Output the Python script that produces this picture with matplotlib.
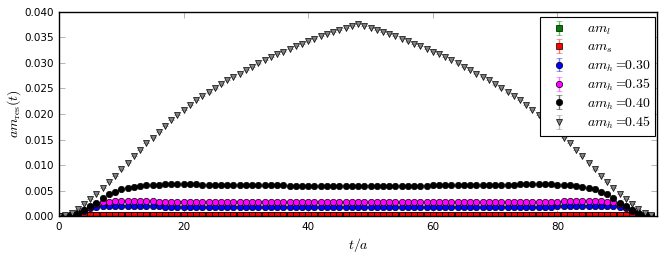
import numpy as np
import matplotlib as mpl
mpl.use('Agg')
import matplotlib.pyplot as plt
from matplotlib.colors import to_rgba

# residual mass am_res(t) on a T=96 lattice, t = 0..95
t = np.arange(96)

am_l = [0.0000, 0.0001, 0.0002, 0.0003, 0.0003, 0.0003, 0.0003, 0.0003, 0.0003, 0.0003, 0.0003, 0.0003,
        0.0003, 0.0003, 0.0003, 0.0003, 0.0003, 0.0003, 0.0003, 0.0003, 0.0003, 0.0003, 0.0003, 0.0003,
        0.0003, 0.0003, 0.0003, 0.0003, 0.0003, 0.0003, 0.0003, 0.0003, 0.0003, 0.0003, 0.0003, 0.0003,
        0.0003, 0.0003, 0.0003, 0.0003, 0.0003, 0.0003, 0.0003, 0.0003, 0.0003, 0.0003, 0.0003, 0.0003,
        0.0003, 0.0003, 0.0003, 0.0003, 0.0003, 0.0003, 0.0003, 0.0003, 0.0003, 0.0003, 0.0003, 0.0003,
        0.0003, 0.0003, 0.0003, 0.0003, 0.0003, 0.0003, 0.0003, 0.0003, 0.0003, 0.0003, 0.0003, 0.0003,
        0.0003, 0.0003, 0.0003, 0.0003, 0.0003, 0.0003, 0.0003, 0.0003, 0.0003, 0.0003, 0.0003, 0.0003,
        0.0003, 0.0003, 0.0003, 0.0003, 0.0003, 0.0003, 0.0003, 0.0003, 0.0003, 0.0003, 0.0002, 0.0001]

am_s = [0.0000, 0.0001, 0.0002, 0.00035, 0.00035, 0.00035, 0.00035, 0.00035, 0.00035, 0.00035, 0.00035, 0.00035,
        0.00035, 0.00035, 0.00035, 0.00035, 0.00035, 0.00035, 0.00035, 0.00035, 0.00035, 0.00035, 0.00035, 0.00035,
        0.00035, 0.00035, 0.00035, 0.00035, 0.00035, 0.00035, 0.00035, 0.00035, 0.00035, 0.00035, 0.00035, 0.00035,
        0.00035, 0.00035, 0.00035, 0.00035, 0.00035, 0.00035, 0.00035, 0.00035, 0.00035, 0.00035, 0.00035, 0.00035,
        0.00035, 0.00035, 0.00035, 0.00035, 0.00035, 0.00035, 0.00035, 0.00035, 0.00035, 0.00035, 0.00035, 0.00035,
        0.00035, 0.00035, 0.00035, 0.00035, 0.00035, 0.00035, 0.00035, 0.00035, 0.00035, 0.00035, 0.00035, 0.00035,
        0.00035, 0.00035, 0.00035, 0.00035, 0.00035, 0.00035, 0.00035, 0.00035, 0.00035, 0.00035, 0.00035, 0.00035,
        0.00035, 0.00035, 0.00035, 0.00035, 0.00035, 0.00035, 0.00035, 0.00035, 0.00035, 0.00035, 0.0002, 0.0001]

am_h30 = [0.0000, 0.0001, 0.0003, 0.0006, 0.0011, 0.0016, 0.0019, 0.0020, 0.0021, 0.0021, 0.0021, 0.0021,
          0.0020, 0.0020, 0.0020, 0.0020, 0.0020, 0.0019, 0.0019, 0.0019, 0.0019, 0.0019, 0.0019, 0.0019,
          0.0019, 0.0019, 0.0019, 0.0019, 0.0019, 0.0019, 0.0019, 0.0019, 0.0019, 0.0019, 0.0019, 0.0019,
          0.0019, 0.0019, 0.0019, 0.0019, 0.0019, 0.0019, 0.0019, 0.0019, 0.0019, 0.0019, 0.0019, 0.0019,
          0.0019, 0.0019, 0.0019, 0.0019, 0.0019, 0.0019, 0.0019, 0.0019, 0.0019, 0.0019, 0.0019, 0.0019,
          0.0019, 0.0019, 0.0019, 0.0019, 0.0019, 0.0019, 0.0019, 0.0019, 0.0019, 0.0019, 0.0019, 0.0019,
          0.0019, 0.0019, 0.0019, 0.0019, 0.0019, 0.0019, 0.0019, 0.0019, 0.0020, 0.0020, 0.0020, 0.0020,
          0.0020, 0.0021, 0.0021, 0.0021, 0.0021, 0.0020, 0.0019, 0.0016, 0.0011, 0.0006, 0.0003, 0.0001]

am_h35 = [0.0000, 0.0001, 0.0003, 0.0007, 0.0012, 0.0019, 0.0025, 0.0028, 0.0029, 0.0030, 0.0030, 0.0030,
          0.0030, 0.0030, 0.0030, 0.0030, 0.0029, 0.0029, 0.0029, 0.0029, 0.0029, 0.0029, 0.0029, 0.0029,
          0.0028, 0.0028, 0.0028, 0.0028, 0.0028, 0.0028, 0.0028, 0.0028, 0.0028, 0.0028, 0.0028, 0.0028,
          0.0028, 0.0028, 0.0028, 0.0028, 0.0028, 0.0028, 0.0028, 0.0028, 0.0028, 0.0028, 0.0028, 0.0028,
          0.0028, 0.0028, 0.0028, 0.0028, 0.0028, 0.0028, 0.0028, 0.0028, 0.0028, 0.0028, 0.0028, 0.0028,
          0.0028, 0.0028, 0.0028, 0.0028, 0.0028, 0.0028, 0.0028, 0.0028, 0.0028, 0.0028, 0.0028, 0.0028,
          0.0028, 0.0029, 0.0029, 0.0029, 0.0029, 0.0029, 0.0029, 0.0029, 0.0029, 0.0030, 0.0030, 0.0030,
          0.0030, 0.0030, 0.0030, 0.0030, 0.0029, 0.0028, 0.0025, 0.0019, 0.0012, 0.0007, 0.0003, 0.0001]

am_h40 = [0.0000, 0.0001, 0.0003, 0.0007, 0.0013, 0.0020, 0.0027, 0.0036, 0.0043, 0.0048, 0.0053, 0.0056,
          0.0058, 0.0060, 0.0061, 0.0062, 0.0062, 0.0063, 0.0063, 0.0063, 0.0063, 0.0063, 0.0063, 0.0062,
          0.0062, 0.0062, 0.0062, 0.0062, 0.0062, 0.0061, 0.0061, 0.0061, 0.0061, 0.0061, 0.0061, 0.0061,
          0.0061, 0.0060, 0.0060, 0.0060, 0.0060, 0.0060, 0.0060, 0.0060, 0.0060, 0.0060, 0.0060, 0.0060,
          0.0060, 0.0060, 0.0060, 0.0060, 0.0060, 0.0060, 0.0060, 0.0060, 0.0060, 0.0060, 0.0060, 0.0060,
          0.0061, 0.0061, 0.0061, 0.0061, 0.0061, 0.0061, 0.0061, 0.0061, 0.0062, 0.0062, 0.0062, 0.0062,
          0.0062, 0.0062, 0.0063, 0.0063, 0.0063, 0.0063, 0.0063, 0.0063, 0.0062, 0.0062, 0.0061, 0.0060,
          0.0058, 0.0056, 0.0053, 0.0048, 0.0043, 0.0036, 0.0027, 0.0020, 0.0013, 0.0007, 0.0003, 0.0001]

am_h45 = [0.0001, 0.0002, 0.0007, 0.0014, 0.0024, 0.0034, 0.0044, 0.0055, 0.0067, 0.0079, 0.0092, 0.0105,
          0.0118, 0.0130, 0.0143, 0.0154, 0.0165, 0.0177, 0.0188, 0.0198, 0.0208, 0.0218, 0.0227, 0.0235,
          0.0242, 0.0250, 0.0258, 0.0266, 0.0273, 0.0279, 0.0286, 0.0292, 0.0299, 0.0305, 0.0311, 0.0317,
          0.0322, 0.0327, 0.0333, 0.0337, 0.0342, 0.0347, 0.0352, 0.0356, 0.0360, 0.0364, 0.0368, 0.0372,
          0.0376, 0.0372, 0.0368, 0.0364, 0.0360, 0.0356, 0.0352, 0.0347, 0.0342, 0.0337, 0.0333, 0.0327,
          0.0322, 0.0317, 0.0311, 0.0305, 0.0299, 0.0292, 0.0286, 0.0279, 0.0273, 0.0266, 0.0258, 0.0250,
          0.0242, 0.0235, 0.0227, 0.0218, 0.0208, 0.0198, 0.0188, 0.0177, 0.0165, 0.0154, 0.0143, 0.0130,
          0.0118, 0.0105, 0.0092, 0.0079, 0.0067, 0.0055, 0.0044, 0.0034, 0.0024, 0.0014, 0.0007, 0.0002]

# statistical errors are tiny, well below marker size
err = 0.00005

series = [
    (am_l, 'green', 's', r'$am_l$'),
    (am_s, 'red', 's', r'$am_s$'),
    (am_h30, 'blue', 'o', r'$am_h=\!\!0.30$'),
    (am_h35, 'magenta', 'o', r'$am_h=\!\!0.35$'),
    (am_h40, 'black', 'o', r'$am_h=\!\!0.40$'),
    (am_h45, 'gray', 'v', r'$am_h=\!\!0.45$'),
]

plt.rcParams['mathtext.fontset'] = 'cm'
plt.rcParams['font.family'] = 'DejaVu Sans'

fig = plt.figure(figsize=(6.64, 2.57), dpi=100)
ax = fig.add_axes([0.089, 0.158, 0.9005, 0.797])

sizes = {'s': 4.0, 'o': 4.6, 'v': 4.8}
for vals, col, mk, lab in series:
    ax.errorbar(t, vals, yerr=err, fmt=mk, color=col, ecolor=to_rgba(col, 0.55),
                markersize=sizes[mk], markeredgecolor='black',
                markeredgewidth=0.5, elinewidth=1, capsize=2.5, label=lab)

ax.set_xlim(0, 96)
ax.set_ylim(0, 0.040)
ax.set_xticks([0, 20, 40, 60, 80])
ax.set_yticks(np.arange(0, 0.0401, 0.005))
ax.yaxis.set_major_formatter(mpl.ticker.FormatStrFormatter('%.3f'))
ax.tick_params(direction='in', top=True, right=True, length=4, width=0.5,
               color='0.6', labelsize=7.5, pad=4)
for s in ax.spines.values():
    s.set_linewidth(1.0)

ax.set_xlabel(r'$t/a$', fontsize=10, labelpad=3)
ax.set_ylabel(r'$am_{\rm res}(t)$', fontsize=10)
ax.yaxis.set_label_coords(-0.06, 0.5)

leg = ax.legend(loc='upper right', bbox_to_anchor=(0.997, 0.975), borderaxespad=0,
                numpoints=1, fontsize=10, fancybox=False,
                framealpha=1, edgecolor='black',
                handlelength=2.0, labelspacing=0.22, handletextpad=1.0,
                borderpad=0.35)
leg.get_frame().set_linewidth(0.8)

plt.savefig('out.png', dpi=100)
plt.close()
